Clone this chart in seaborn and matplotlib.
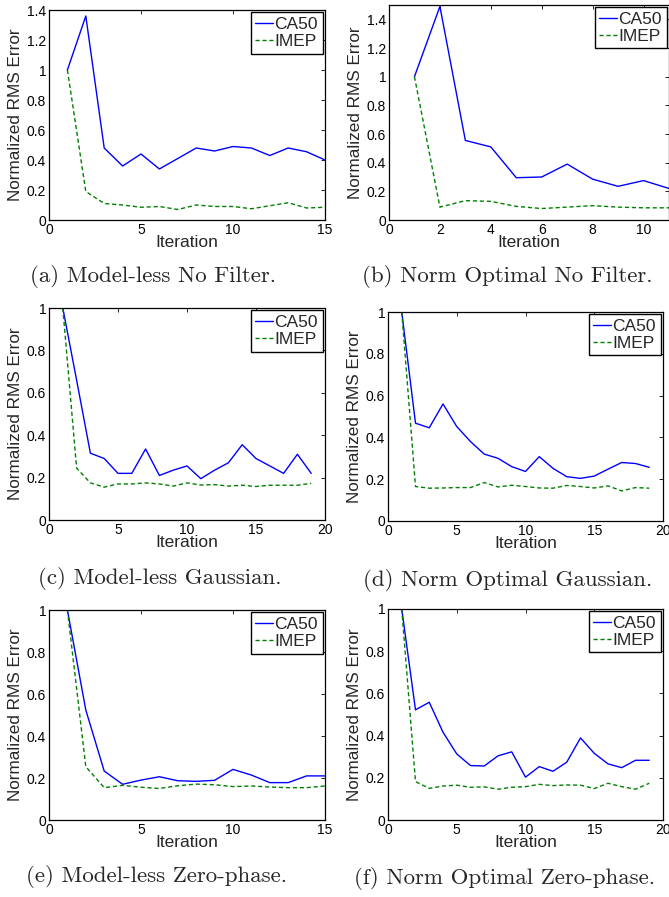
import pandas as pd
import matplotlib.pyplot as plt
import seaborn as sns

# Data (normalized RMS error per iteration)
ca50_a = [1.0, 1.36, 0.48, 0.36, 0.44, 0.34, 0.41, 0.48, 0.46, 0.49, 0.48, 0.43, 0.48, 0.455, 0.40]
imep_a = [1.0, 0.19, 0.11, 0.10, 0.085, 0.09, 0.07, 0.10, 0.09, 0.09, 0.075, 0.095, 0.115, 0.08, 0.085]

ca50_b = [1.0, 1.49, 0.555, 0.51, 0.295, 0.30, 0.39, 0.285, 0.235, 0.275, 0.22]
imep_b = [1.0, 0.09, 0.135, 0.13, 0.095, 0.08, 0.09, 0.10, 0.09, 0.085, 0.085]

ca50_c = [1.0, 0.66, 0.315, 0.29, 0.22, 0.22, 0.335, 0.21, 0.235, 0.255, 0.195, 0.235,
          0.27, 0.355, 0.29, 0.255, 0.22, 0.31, 0.22]
imep_c = [1.0, 0.245, 0.175, 0.155, 0.17, 0.17, 0.175, 0.17, 0.16, 0.175, 0.165, 0.167,
          0.16, 0.164, 0.158, 0.164, 0.164, 0.164, 0.173]

ca50_d = [1.0, 0.468, 0.446, 0.56, 0.452, 0.38, 0.32, 0.30, 0.26, 0.237, 0.308, 0.252,
          0.212, 0.204, 0.215, 0.248, 0.28, 0.275, 0.257]
imep_d = [1.0, 0.165, 0.157, 0.158, 0.16, 0.16, 0.184, 0.163, 0.171, 0.165, 0.158, 0.157,
          0.17, 0.165, 0.158, 0.168, 0.144, 0.16, 0.157]

ca50_e = [1.0, 0.524, 0.233, 0.17, 0.19, 0.206, 0.187, 0.184, 0.189, 0.241, 0.214, 0.178,
          0.178, 0.21, 0.21]
imep_e = [1.0, 0.254, 0.154, 0.165, 0.156, 0.15, 0.163, 0.171, 0.168, 0.159, 0.162, 0.157,
          0.154, 0.154, 0.162]

ca50_f = [1.0, 0.522, 0.558, 0.416, 0.313, 0.258, 0.256, 0.304, 0.323, 0.203, 0.253, 0.231,
          0.274, 0.389, 0.316, 0.266, 0.248, 0.283, 0.283]
imep_f = [1.0, 0.182, 0.15, 0.161, 0.165, 0.155, 0.157, 0.146, 0.155, 0.158, 0.169, 0.163,
          0.166, 0.165, 0.149, 0.174, 0.158, 0.146, 0.174]

captions = ["(a) Model-less No Filter.", "(b) Norm Optimal No Filter.",
            "(c) Model-less Gaussian.", "(d) Norm Optimal Gaussian.",
            "(e) Model-less Zero-phase.", "(f) Norm Optimal Zero-phase."]

sns.set_style("white")
plt.rcParams["font.family"] = ["Liberation Sans", "DejaVu Sans"]

W, H = 669, 897
fig = plt.figure(figsize=(W / 100, H / 100), dpi=100)

# panel boxes in pixels: left, right, top, bottom; caption centre in pixels
panels = [
    (ca50_a, imep_a, (49, 325, 10, 220), (0, 15), (0, 1.4), [0, 5, 10, 15],
     [0, 0.2, 0.4, 0.6, 0.8, 1, 1.2, 1.4], 153, 276),
    (ca50_b, imep_b, (389, 669, 5, 220), (0, 11), (0, 1.5), [0, 2, 4, 6, 8, 10],
     [0, 0.2, 0.4, 0.6, 0.8, 1, 1.2, 1.4], 507, 276),
    (ca50_c, imep_c, (49, 325, 308, 520), (0, 20), (0, 1), [0, 5, 10, 15, 20],
     [0, 0.2, 0.4, 0.6, 0.8, 1], 160, 578),
    (ca50_d, imep_d, (388, 663, 312, 521), (0, 20), (0, 1), [0, 5, 10, 15, 20],
     [0, 0.2, 0.4, 0.6, 0.8, 1], 508, 580),
    (ca50_e, imep_e, (49, 325, 610, 820), (0, 15), (0, 1), [0, 5, 10, 15],
     [0, 0.2, 0.4, 0.6, 0.8, 1], 156, 876),
    (ca50_f, imep_f, (388, 663, 609, 820), (0, 20), (0, 1), [0, 5, 10, 15, 20],
     [0, 0.2, 0.4, 0.6, 0.8, 1], 505, 878),
]

def fmt(v):
    return "0" if v == 0 else ("%g" % v)

for (ca50, imep, box, xlim, ylim, xt, yt, cx, cy), cap in zip(panels, captions):
    l, r, t, b = box
    ax = fig.add_axes([l / W, 1 - b / H, (r - l) / W, (b - t) / H])
    df = pd.DataFrame({"Iteration": range(1, len(ca50) + 1), "CA50": ca50, "IMEP": imep})
    sns.lineplot(data=df, x="Iteration", y="CA50", color="#0000ff", lw=1.0, label="CA50", ax=ax)
    sns.lineplot(data=df, x="Iteration", y="IMEP", color="#008000", lw=1.0,
                 linestyle=(0, (3, 2)), label="IMEP", ax=ax)
    ax.set_xlim(*xlim)
    ax.set_ylim(*ylim)
    ax.set_xticks(xt)
    ax.set_yticks(yt)
    ax.set_yticklabels([fmt(v) for v in yt])
    ax.tick_params(direction="in", length=3, width=0.6, top=True, right=True,
                   labelsize=10, pad=2, colors="black")
    for s in ax.spines.values():
        s.set_color("black")
        s.set_linewidth(0.9)
    ax.set_xlabel("Iteration", fontsize=12.5, labelpad=-1)
    ax.set_ylabel("Normalized RMS Error", fontsize=12.3, labelpad=3)
    leg = ax.legend(loc="upper right", fontsize=12.5, frameon=True, fancybox=False,
                    edgecolor="black", framealpha=1, handlelength=1.0, handletextpad=0.1,
                    borderpad=0.28, labelspacing=0.08, borderaxespad=0.12)
    leg.get_frame().set_linewidth(1.0)
    fig.text(cx / W, 1 - cy / H, cap, ha="center", va="center", fontsize=16.5,
             family=["cmr10", "DejaVu Serif"])

fig.savefig("out.png", dpi=100)
